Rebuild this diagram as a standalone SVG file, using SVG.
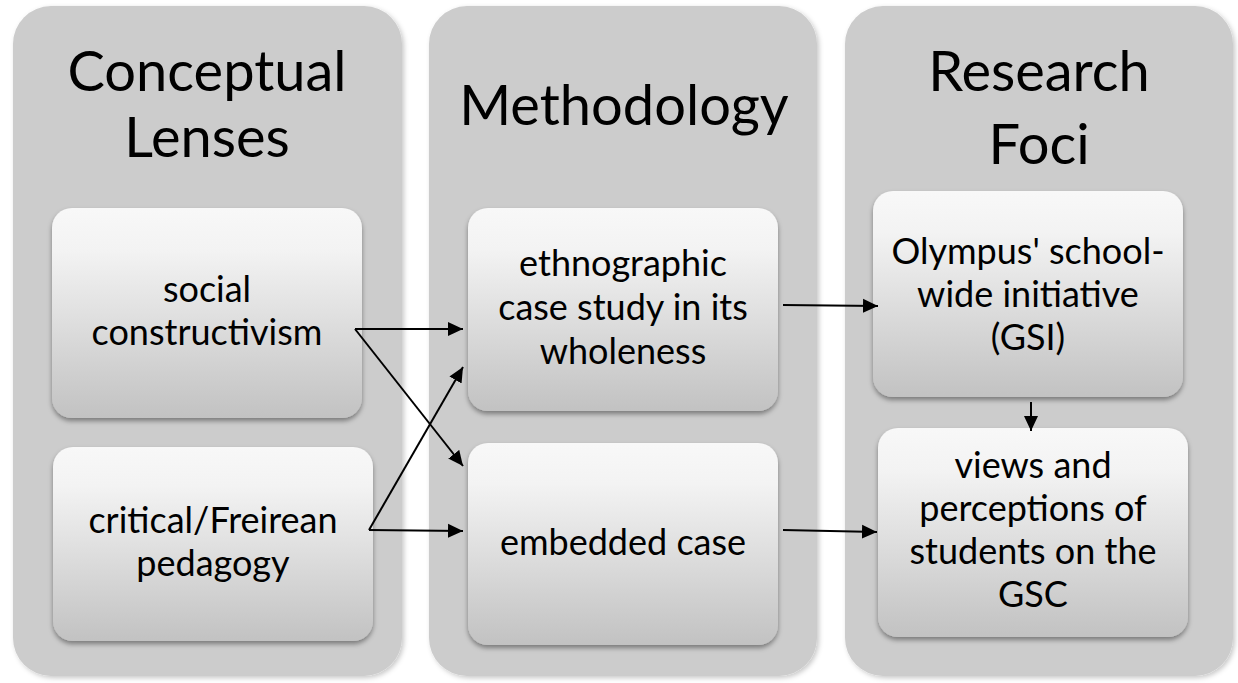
<svg xmlns="http://www.w3.org/2000/svg" width="1238" height="683" viewBox="0 0 1238 683">
  <defs>
    <linearGradient id="boxFill" x1="0" y1="0" x2="0" y2="1">
      <stop offset="0" stop-color="#f8f8f8"/>
      <stop offset="0.2" stop-color="#f3f3f3"/>
      <stop offset="1" stop-color="#c2c2c2"/>
    </linearGradient>
    <filter id="panelShadow" x="-5%" y="-5%" width="115%" height="115%">
      <feDropShadow dx="2" dy="2" stdDeviation="2.5" flood-color="#000" flood-opacity="0.22"/>
    </filter>
    <filter id="boxShadow" x="-10%" y="-10%" width="120%" height="125%">
      <feDropShadow dx="0" dy="3" stdDeviation="2.5" flood-color="#000" flood-opacity="0.4"/>
    </filter>
    <marker id="arrow" markerUnits="userSpaceOnUse" markerWidth="16" markerHeight="16" refX="15" refY="8" orient="auto">
      <path d="M0,1 L15,8 L0,15 z" fill="#000"/>
    </marker>
  </defs>
  <style>
    .panel { fill: #cccccc; filter: url(#panelShadow); }
    .box { fill: url(#boxFill); filter: url(#boxShadow); }
    text { font-family: Lato, "Open Sans", sans-serif; fill: #000; text-anchor: middle; }
    .title { font-size: 56px; }
    .label { font-size: 36px; }
    .conn { stroke: #000; stroke-width: 2; fill: none; marker-end: url(#arrow); }
  </style>

  <!-- column panels -->
  <g id="panel-lenses">
    <rect class="panel" x="13" y="6" width="389" height="670" rx="38"/>
    <text class="title" x="207" y="91">Conceptual</text>
    <text class="title" x="207" y="157">Lenses</text>
  </g>
  <g id="panel-methodology">
    <rect class="panel" x="429" y="6" width="388" height="670" rx="38"/>
    <text class="title" x="624" y="125">Methodology</text>
  </g>
  <g id="panel-foci">
    <rect class="panel" x="845" y="6" width="388" height="670" rx="38"/>
    <text class="title" x="1039" y="91">Research</text>
    <text class="title" x="1039" y="164">Foci</text>
  </g>

  <!-- nodes -->
  <g id="node-social">
    <rect class="box" x="52" y="208" width="310" height="210" rx="20"/>
    <text class="label" x="207" y="302">social</text>
    <text class="label" x="207" y="345">constructivism</text>
  </g>
  <g id="node-critical">
    <rect class="box" x="53" y="447" width="320" height="194" rx="20"/>
    <text class="label" x="213" y="533">critical/Freirean</text>
    <text class="label" x="213" y="576">pedagogy</text>
  </g>
  <g id="node-ethnographic">
    <rect class="box" x="468" y="208" width="310" height="203" rx="20"/>
    <text class="label" x="623" y="276">ethnographic</text>
    <text class="label" x="623" y="320">case study in its</text>
    <text class="label" x="623" y="364">wholeness</text>
  </g>
  <g id="node-embedded">
    <rect class="box" x="468" y="443" width="310" height="202" rx="20"/>
    <text class="label" x="623" y="555">embedded case</text>
  </g>
  <g id="node-olympus">
    <rect class="box" x="873" y="191" width="310" height="206" rx="20"/>
    <text class="label" x="1028" y="264">Olympus' school-</text>
    <text class="label" x="1028" y="307">wide initiative</text>
    <text class="label" x="1028" y="350">(GSI)</text>
  </g>
  <g id="node-views">
    <rect class="box" x="878" y="428" width="310" height="209" rx="20"/>
    <text class="label" x="1033" y="478">views and</text>
    <text class="label" x="1033" y="521">perceptions of</text>
    <text class="label" x="1033" y="564">students on the</text>
    <text class="label" x="1033" y="607">GSC</text>
  </g>

  <!-- connectors -->
  <g id="connectors">
    <line class="conn" x1="355" y1="329" x2="463" y2="329"/>
    <line class="conn" x1="355" y1="329" x2="463" y2="466"/>
    <line class="conn" x1="369" y1="530" x2="463" y2="367"/>
    <line class="conn" x1="369" y1="530" x2="463" y2="531"/>
    <line class="conn" x1="783" y1="305" x2="878" y2="306"/>
    <line class="conn" x1="783" y1="530" x2="877" y2="532"/>
    <line class="conn" x1="1031" y1="402" x2="1031" y2="431"/>
  </g>
</svg>
